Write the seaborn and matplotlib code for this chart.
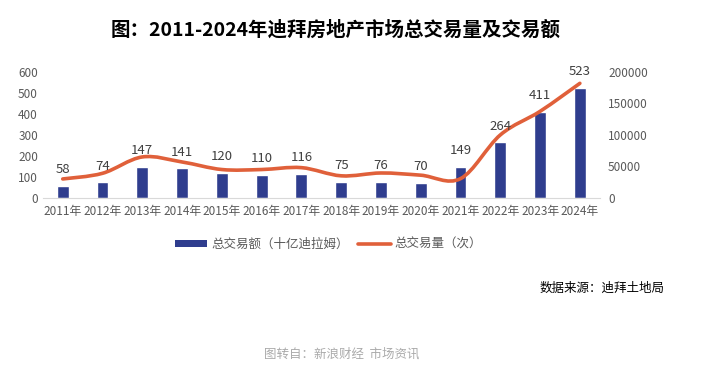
import numpy as np
import pandas as pd
import matplotlib
matplotlib.use('Agg')
import matplotlib.pyplot as plt
from matplotlib.path import Path
from matplotlib.patches import PathPatch, Patch
from matplotlib.lines import Line2D
import seaborn as sns

years = ['2011年', '2012年', '2013年', '2014年', '2015年', '2016年', '2017年',
         '2018年', '2019年', '2020年', '2021年', '2022年', '2023年', '2024年']
value_bn = [58, 74, 147, 141, 120, 110, 116, 75, 76, 70, 149, 264, 411, 523]
volume = [30000, 39000, 65000, 57000, 45000, 45000, 48000,
          35000, 39500, 36000, 30500, 100000, 137500, 182000]

bar_color = '#2F3D8E'
line_color = '#E0603A'
tick_color = '#595959'

sns.set_style('white')
plt.rcParams['font.family'] = ['Noto Sans CJK SC', 'DejaVu Sans']

fig = plt.figure(figsize=(7.14, 3.79), dpi=100)
ax = fig.add_axes([0.060, 0.478, 0.780, 0.332])

df = pd.DataFrame({'year': years, 'value': value_bn})
sns.barplot(data=df, x='year', y='value', color=bar_color, width=0.3,
            saturation=1, ax=ax)
ax.set_xlim(-0.5, len(years) - 0.5)
ax.set_ylim(0, 600)
ax.set_yticks(range(0, 601, 100))
ax.set_xlabel('')
ax.set_ylabel('')
for s in ['top', 'right', 'left']:
    ax.spines[s].set_visible(False)
ax.spines['bottom'].set_color('#d9d9d9')
ax.tick_params(axis='both', length=0, colors=tick_color, labelsize=8.5)
ax.tick_params(axis='x', pad=5)

# smoothed line (Catmull-Rom as cubic Bezier), secondary axis
ax2 = ax.twinx()
ax2.set_ylim(0, 200000)
ax2.set_yticks(range(0, 200001, 50000))
ax2.tick_params(axis='y', length=0, colors=tick_color, labelsize=8.5, pad=6)
for s in ax2.spines.values():
    s.set_visible(False)

xs = np.arange(len(volume), dtype=float)
ys = np.array(volume, dtype=float)
verts = [(xs[0], ys[0])]
codes = [Path.MOVETO]
n = len(xs)
for i in range(n - 1):
    p0 = (xs[max(i - 1, 0)], ys[max(i - 1, 0)])
    p1 = (xs[i], ys[i])
    p2 = (xs[i + 1], ys[i + 1])
    p3 = (xs[min(i + 2, n - 1)], ys[min(i + 2, n - 1)])
    c1 = (p1[0] + (p2[0] - p0[0]) / 6, p1[1] + (p2[1] - p0[1]) / 6)
    c2 = (p2[0] - (p3[0] - p1[0]) / 6, p2[1] - (p3[1] - p1[1]) / 6)
    verts += [c1, c2, p2]
    codes += [Path.CURVE4] * 3
ax2.add_patch(PathPatch(Path(verts, codes), fill=False, edgecolor=line_color,
                        lw=2.6, capstyle='round', joinstyle='round', zorder=2))

# bar labels drawn above the line
for i, v in enumerate(value_bn):
    ax2.annotate(str(v), (i, v), xycoords=ax.transData, xytext=(0, 7),
                 textcoords='offset points', ha='center', va='bottom',
                 fontsize=9.5, color='#404040', zorder=5)

handles = [Patch(facecolor=bar_color, edgecolor='none'),
           Line2D([], [], color=line_color, lw=2.6)]
fig.legend(handles, ['总交易额（十亿迪拉姆）', '总交易量（次）'], loc='center',
           bbox_to_anchor=(0.46, 0.355), ncol=2, frameon=False, fontsize=9,
           labelcolor=tick_color, handlelength=2.6, handleheight=0.45,
           handletextpad=0.3, columnspacing=0.8)

fig.text(0.47, 0.92, '图：2011-2024年迪拜房地产市场总交易量及交易额',
         ha='center', va='center', fontsize=14, fontweight='bold', color='black')
fig.text(0.843, 0.24, '数据来源：迪拜土地局', ha='center', va='center',
         fontsize=9, color='black')
fig.text(0.479, 0.066, '图转自：新浪财经  市场资讯', ha='center', va='center',
         fontsize=9, color='#aaaaaa')

fig.savefig('out.png', dpi=100)
